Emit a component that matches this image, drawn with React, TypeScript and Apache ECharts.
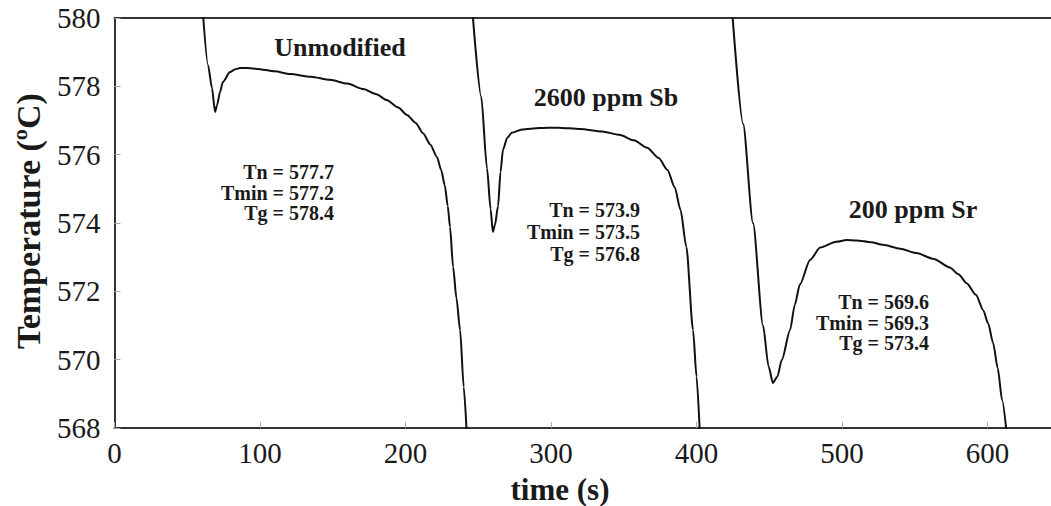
import React, { useEffect, useRef } from "react";
import * as echarts from "echarts";

// Unmodified
const time1 = [60.5, 64.3, 67, 69.1, 70.5, 72.5, 74.5, 79.4, 83, 86.3, 92, 97.9, 110, 120.6, 135, 148, 160, 171, 180, 187, 195, 201, 207, 212, 217, 221.6, 224.5, 227, 229, 230.6, 232.7, 235, 237.5, 240, 242];
const temp1 = [580.3, 578.62, 577.95, 577.25, 577.45, 577.83, 578.13, 578.42, 578.5, 578.54, 578.54, 578.51, 578.44, 578.36, 578.28, 578.19, 578.08, 577.92, 577.77, 577.6, 577.38, 577.16, 576.93, 576.63, 576.3, 575.93, 575.55, 575.1, 574.5, 573.88, 572.71, 571.8, 570.87, 569.2, 567.9];

// 2600 ppm Sb
const time2 = [246, 252, 256, 258.5, 260, 261.5, 263.6, 265.3, 267, 270, 273, 280, 292, 305, 320, 335, 347, 357, 366, 374, 380, 385, 389, 393, 397.6, 400, 402.2];
const temp2 = [580.2, 577.7, 575.6, 574.4, 573.74, 573.95, 574.5, 575.5, 576.15, 576.5, 576.64, 576.74, 576.78, 576.79, 576.75, 576.68, 576.58, 576.42, 576.2, 575.9, 575.55, 575.05, 574.38, 573.3, 570.87, 569.5, 567.9];

// 200 ppm Sr
const time3 = [424.5, 432, 438.8, 445.7, 449.5, 452.5, 455.5, 458.6, 464.3, 467.5, 471, 478, 485, 496, 503, 510, 520, 528, 540, 551, 563, 574, 580, 585.6, 592, 597, 600.5, 603.8, 607, 610, 613];
const temp3 = [580.2, 576.9, 574.0, 571.0, 569.8, 569.32, 569.5, 569.99, 570.87, 571.6, 572.2, 572.92, 573.28, 573.45, 573.5, 573.49, 573.44, 573.36, 573.25, 573.12, 572.95, 572.7, 572.5, 572.24, 571.9, 571.45, 571.05, 570.49, 569.75, 568.82, 567.9];

const xTicks = [0, 100, 200, 300, 400, 500, 600];
const yTicks = [568, 570, 572, 574, 576, 578, 580];

const sampleLabels = ["Unmodified", "2600 ppm Sb", "200 ppm Sr"];
const block1 = ["Tn = 577.7", "Tmin = 577.2", "Tg = 578.4"];
const block2 = ["Tn = 573.9", "Tmin = 573.5", "Tg = 576.8"];
const block3 = ["Tn = 569.6", "Tmin = 569.3", "Tg = 573.4"];

const FONT = "Liberation Serif";
const INK = "#1a1a1a";

function pairs(t: number[], v: number[]) {
  return t.map((x, i) => [x, v[i]]);
}

export default function App() {
  const ref = useRef<HTMLDivElement>(null);
  useEffect(() => {
    if (!ref.current) return;
    const chart = echarts.init(ref.current, null, { renderer: "svg" });
    const lineSeries = (name: string, data: number[][]) => ({
      name,
      type: "line",
      data,
      showSymbol: false,
      symbol: "none",
      clip: true,
      lineStyle: { color: "#111", width: 2 },
      smooth: 0.25,
      smoothMonotone: "x",
    });
    const blockText = (lines: string[], right: number, ys: number[]) =>
      lines.map((s, i) => ({
        type: "text",
        x: right,
        y: ys[i],
        style: {
          text: s,
          fontFamily: FONT,
          fontWeight: "bold",
          fontSize: 20,
          fill: INK,
          align: "right",
          verticalAlign: "middle",
        },
      }));
    const label = (s: string, x: number, y: number) => ({
      type: "text",
      x,
      y,
      style: {
        text: s,
        fontFamily: FONT,
        fontWeight: "bold",
        fontSize: 26,
        fill: INK,
        align: "center",
        verticalAlign: "middle",
      },
    });
    chart.setOption({
      animation: false,
      textStyle: { fontFamily: FONT },
      grid: { left: 114.5, top: 18, right: 0, bottom: 78, containLabel: false },
      xAxis: [
        {
          type: "value",
          min: 0,
          max: 643.6,
          interval: 100,
          axisLine: { show: true, lineStyle: { color: "#333", width: 2 } },
          axisTick: { show: true, inside: true, length: 6, lineStyle: { color: "#aaa", width: 1 } },
          splitLine: { show: false },
          axisLabel: {
            margin: 10,
            fontFamily: FONT,
            fontSize: 29,
            color: INK,
            showMaxLabel: false,
            formatter: (v: number) => (xTicks.includes(v) ? String(v) : ""),
          },
        },
        {
          type: "value",
          position: "top",
          min: 0,
          max: 643.6,
          axisLine: { show: true, lineStyle: { color: "#333", width: 2 } },
          axisTick: { show: false },
          axisLabel: { show: false },
          splitLine: { show: false },
        },
      ],
      yAxis: {
        type: "value",
        min: 568,
        max: 580,
        interval: 2,
        axisLine: { show: true, lineStyle: { color: "#333", width: 2 } },
        axisTick: { show: true, inside: true, length: 6, lineStyle: { color: "#aaa", width: 1 } },
        splitLine: { show: false },
        axisLabel: {
          margin: 14,
          fontFamily: FONT,
          fontSize: 29,
          color: INK,
          formatter: (v: number) => (yTicks.includes(v) ? String(v) : ""),
        },
      },
      series: [
        lineSeries(sampleLabels[0], pairs(time1, temp1)),
        lineSeries(sampleLabels[1], pairs(time2, temp2)),
        lineSeries(sampleLabels[2], pairs(time3, temp3)),
      ],
      graphic: [
        label(sampleLabels[0], 340, 47),
        label(sampleLabels[1], 606, 97),
        label(sampleLabels[2], 913, 209),
        ...blockText(block1, 334, [172, 192.5, 213]),
        ...blockText(block2, 640, [210, 232, 254]),
        ...blockText(block3, 929, [302, 322.5, 343]),
        {
          type: "text",
          x: 560,
          y: 489,
          style: {
            text: "time (s)",
            fontFamily: FONT,
            fontWeight: "bold",
            fontSize: 31,
            fill: INK,
            align: "center",
            verticalAlign: "middle",
          },
        },
        {
          type: "text",
          x: 28,
          y: 221,
          rotation: Math.PI / 2,
          style: {
            text: "Temperature (ºC)",
            fontFamily: FONT,
            fontWeight: "bold",
            fontSize: 34,
            fill: INK,
            align: "center",
            verticalAlign: "middle",
          },
        },
      ],
    });
    return () => chart.dispose();
  }, []);
  return (
    <div
      ref={ref}
      style={{ position: "fixed", left: 0, top: 0, width: 1051, height: 506, background: "#fff" }}
    />
  );
}
